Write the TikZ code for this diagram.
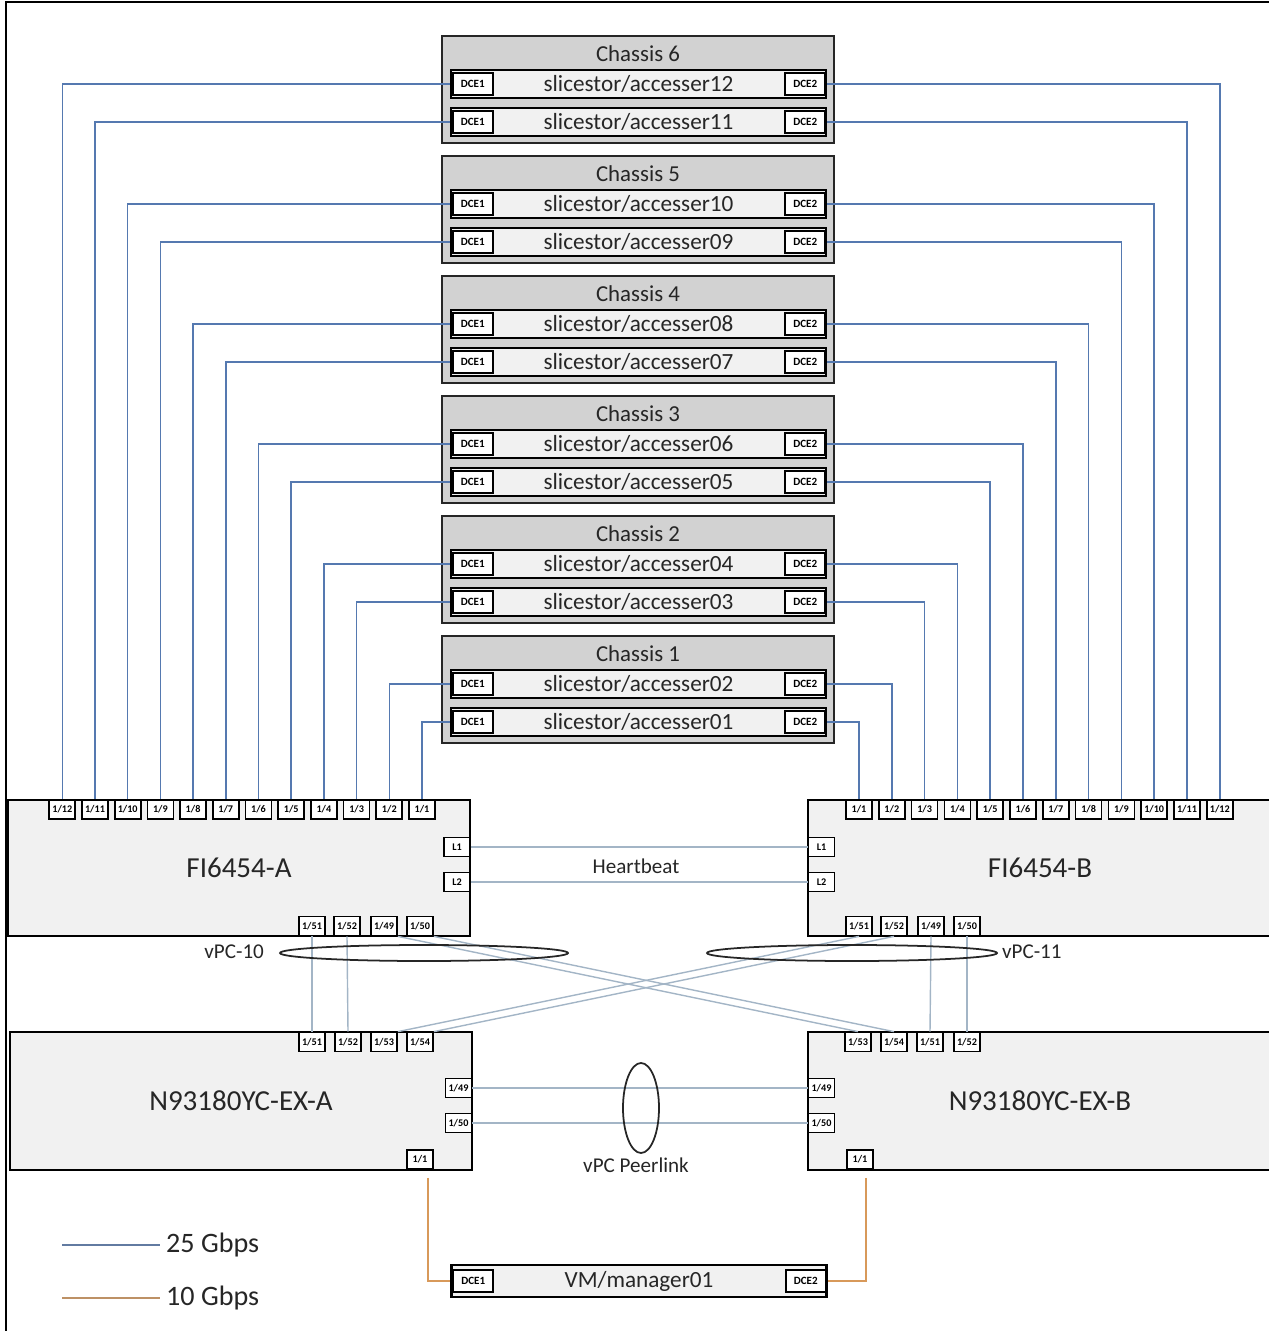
\documentclass[tikz,border=0pt]{standalone}
\usepackage{fontspec}
\setmainfont{Carlito}
\usetikzlibrary{calc,positioning}

\definecolor{linkblue}{HTML}{5579B0}
\definecolor{linkgray}{HTML}{A3B5C6}
\definecolor{linkorange}{HTML}{D8995A}
\definecolor{chassisfill}{HTML}{D2D2D2}
\definecolor{boxfill}{HTML}{F1F1F1}
\definecolor{textgray}{HTML}{262626}

\tikzset{
  chassis/.style={draw=black!85, line width=1.4pt, fill=chassisfill,
    minimum width=7.84cm, minimum height=2.14cm, inner sep=0pt},
  chassis title/.style={font=\fontsize{13}{15}\selectfont, text=textgray, inner sep=0pt},
  server/.style={draw=black, line width=1.5pt, fill=boxfill,
    minimum width=7.5cm, minimum height=0.56cm, inner sep=0pt,
    font=\fontsize{13.2}{15}\selectfont, text=textgray},
  dce/.style={draw=black, line width=1pt, fill=white,
    minimum width=0.8cm, minimum height=0.44cm, inner sep=0pt,
    font=\fontsize{6.3}{7}\selectfont\bfseries},
  switch/.style={draw=black, line width=1.3pt, fill=boxfill,
    minimum width=9.24cm, minimum height=2.72cm, inner sep=0pt,
    font=\fontsize{16.5}{19}\selectfont, text=textgray},
  switch name/.style={font=\fontsize{16.5}{19}\selectfont, text=textgray, inner sep=0pt},
  port/.style={draw=black, line width=1pt, fill=white,
    minimum width=0.52cm, minimum height=0.38cm, inner sep=0pt,
    font=\fontsize{5.8}{6.5}\selectfont\bfseries},
  fast link/.style={linkblue, line width=0.9pt},
  peer link/.style={linkgray, line width=0.8pt},
  slow link/.style={linkorange, line width=0.9pt},
  caption/.style={font=\fontsize{12}{14}\selectfont, text=textgray, inner sep=1pt},
  legend/.style={font=\fontsize{16}{18}\selectfont, text=textgray, inner sep=1pt},
}

\begin{document}
\begin{tikzpicture}[x=0.02cm, y=-0.02cm]
    \useasboundingbox (0,0) rectangle (1268,1331);
    % 外框
    \draw[line width=1.3pt] (6,1345) -- (6,2) -- (1285,2);

    % 机箱与服务器
    \foreach \k in {1,...,6}{
        \pgfmathsetmacro{\ctop}{36+(6-\k)*120}
        \pgfmathtruncatemacro{\up}{2*\k}
        \pgfmathtruncatemacro{\lo}{2*\k-1}
        \node[chassis] (ch\k) at (638, \ctop+53.5) {};
        \node[chassis title] at (638, \ctop+18) {Chassis \k};
        \node[server] (srv\up) at (638.5, \ctop+48) {slicestor/accesser\ifnum\up<10 0\fi\up};
        \node[server] (srv\lo) at (638.5, \ctop+86) {slicestor/accesser\ifnum\lo<10 0\fi\lo};
        \foreach \s in {\up,\lo}{
            \node[dce] (dcea\s) at ($(srv\s.west)+(23,0)$) {DCE1};
            \node[dce] (dceb\s) at ($(srv\s.east)+(-22,0)$) {DCE2};
        }
    }

    % 交换机
    \node[switch] (fia) at (239,868) {FI6454-A};
    \node[switch, minimum width=9.84cm] (fib) at (1054,868) {};
    \node[switch name] (fibT) at (1040,868) {FI6454-B};
    \node[switch, minimum height=2.76cm] (nxa) at (241,1101) {N93180YC-EX-A};
    \node[switch, minimum width=9.84cm, minimum height=2.76cm] (nxb) at (1054,1101) {};
    \node[switch name] (nxbT) at (1040,1101) {N93180YC-EX-B};

    % 端口
    \foreach \n in {1,...,12}{
        \node[port] (faP\n) at ({422-(\n-1)*32.7}, 809.5) {1/\n};
        \node[port] (fbP\n) at ({859+(\n-1)*32.8}, 809.5) {1/\n};
        \draw[fast link] (srv\n.west) -| (faP\n.north);
        \draw[fast link] (srv\n.east) -| (fbP\n.north);
    }
    \node[port] (faL1) at (457,847) {L1};
    \node[port] (faL2) at (457,882) {L2};
    \node[port] (fbL1) at (821.5,847) {L1};
    \node[port] (fbL2) at (821.5,882) {L2};
    \foreach \p/\x in {51/312, 52/347, 49/384, 50/420}
        \node[port] (faP\p) at (\x,926) {1/\p};
    \foreach \p/\x in {51/859, 52/894, 49/931, 50/967}
        \node[port] (fbP\p) at (\x,926) {1/\p};
    \foreach \p/\x in {51/312, 52/348, 53/384, 54/420}
        \node[port] (naP\p) at (\x,1042) {1/\p};
    \foreach \p/\x in {53/858, 54/894, 51/930, 52/967}
        \node[port] (nbP\p) at (\x,1042) {1/\p};
    \node[port] (naP49) at (458.5,1088) {1/49};
    \node[port] (naP50) at (458.5,1123) {1/50};
    \node[port] (naP1) at (420,1159.5) {1/1};
    \node[port] (nbP49) at (821.5,1088) {1/49};
    \node[port] (nbP50) at (821.5,1123) {1/50};
    \node[port] (nbP1) at (860,1159.5) {1/1};

    % Heartbeat
    \draw[peer link] (faL1.east) -- (fbL1.west);
    \draw[peer link] (faL2.east) -- (fbL2.west);
    \node[caption] (hb) at (636,866) {Heartbeat};

    % vPC
    \draw[peer link] (faP51.south) -- (naP51.north);
    \draw[peer link] (faP52.south) -- (naP52.north);
    \draw[peer link] (faP49.south east) -- (nbP53.north);
    \draw[peer link] (faP50.south east) -- (nbP54.north);
    \draw[peer link] (fbP51.south) -- (naP53.north east);
    \draw[peer link] (fbP52.south) -- (naP54.north east);
    \draw[peer link] (fbP49.south) -- (nbP51.north);
    \draw[peer link] (fbP50.south) -- (nbP52.north);
    \draw[line width=1pt, black!85] (424,953) ellipse [x radius=144, y radius=8];
    \draw[line width=1pt, black!85] (852,953) ellipse [x radius=145, y radius=8];
    \node[caption, anchor=east] (vpca) at (266,952) {vPC-10};
    \node[caption, anchor=west] (vpcb) at (1000,952) {vPC-11};

    % vPC Peerlink
    \draw[peer link] (naP49.east) -- (nbP49.west);
    \draw[peer link] (naP50.east) -- (nbP50.west);
    \draw[line width=1pt, black!85] (641,1108) ellipse [x radius=18, y radius=45];
    \node[caption] (peer) at (636,1165) {vPC Peerlink};

    % 管理节点
    \node[server, minimum height=0.64cm] (mgr) at (639,1281) {VM/manager01};
    \node[dce] (mgrA) at ($(mgr.west)+(23,0)$) {DCE1};
    \node[dce] (mgrB) at ($(mgr.east)+(-22,0)$) {DCE2};
    \draw[slow link] ($(naP1.south)+(8,8)$) |- (mgr.west);
    \draw[slow link] ($(nbP1.south)+(6,8)$) |- (mgr.east);

    % 图例
    \draw[line width=1.1pt, linkblue!70!gray] (62,1245) -- (160,1245)
        node[right=2pt, legend] {25 Gbps};
    \draw[line width=1.1pt, linkorange!70!gray] (62,1298) -- (160,1298)
        node[right=2pt, legend] {10 Gbps};
\end{tikzpicture}
\end{document}
